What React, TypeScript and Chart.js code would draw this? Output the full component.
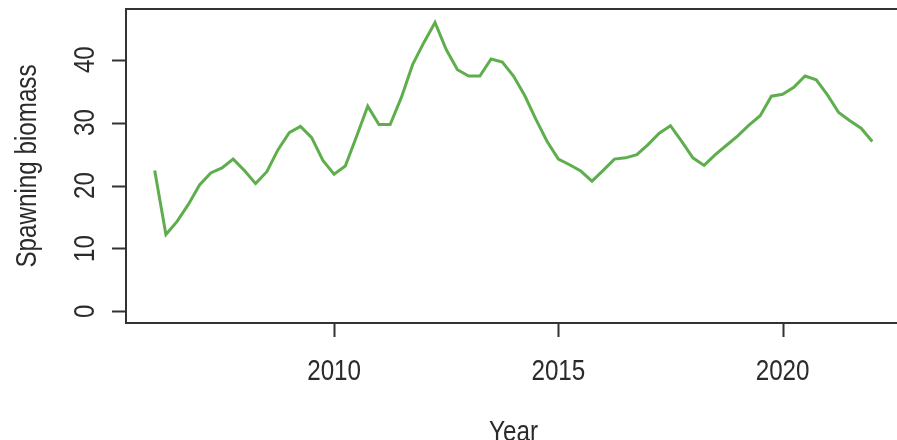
import React, { useEffect, useRef } from "react";
import { Chart, registerables } from "chart.js";

Chart.register(...registerables);

// Quarterly time stamps (decimal years)
const quarters = [
  2006, 2006.25, 2006.5, 2006.75,
  2007, 2007.25, 2007.5, 2007.75,
  2008, 2008.25, 2008.5, 2008.75,
  2009, 2009.25, 2009.5, 2009.75,
  2010, 2010.25, 2010.5, 2010.75,
  2011, 2011.25, 2011.5, 2011.75,
  2012, 2012.25, 2012.5, 2012.75,
  2013, 2013.25, 2013.5, 2013.75,
  2014, 2014.25, 2014.5, 2014.75,
  2015, 2015.25, 2015.5, 2015.75,
  2016, 2016.25, 2016.5, 2016.75,
  2017, 2017.25, 2017.5, 2017.75,
  2018, 2018.25, 2018.5, 2018.75,
  2019, 2019.25, 2019.5, 2019.75,
  2020, 2020.25, 2020.5, 2020.75,
  2021, 2021.25, 2021.5, 2021.75,
  2022,
];

// Spawning biomass estimates per quarter
const biomass = [
  22.4, 12.2, 14.3, 17.0,
  20.1, 22.0, 22.8, 24.2,
  22.4, 20.3, 22.2, 25.7,
  28.4, 29.4, 27.6, 24.0,
  21.8, 23.1, 27.8, 32.6,
  29.7, 29.7, 34.0, 39.2,
  42.7, 45.9, 41.6, 38.4,
  37.4, 37.4, 40.1, 39.6,
  37.4, 34.3, 30.5, 27.0,
  24.2, 23.3, 22.3, 20.7,
  22.4, 24.2, 24.4, 24.9,
  26.5, 28.3, 29.5, 27.0,
  24.4, 23.2, 24.9, 26.4,
  27.9, 29.6, 31.1, 34.2,
  34.5, 35.6, 37.4, 36.8,
  34.4, 31.6, 30.3, 29.1,
  27.0,
];

const xTicks = [2010, 2015, 2020];
const yTicks = [0, 10, 20, 30, 40];

const xTitle = "Year";
const yTitle = "Spawning biomass";

const FONT = '29.5px "Liberation Sans", Arial, sans-serif';
const NARROW = 0.82;
const INK = "#2b2b2b";
const FRAME = "#333333";

// Draws an R-style frame, tick marks and condensed labels
const baseAxesPlugin = {
  id: "baseAxes",
  afterDraw(chart: any) {
    const { ctx, chartArea, scales } = chart;
    const xs = scales.x;
    const ys = scales.y;
    const { left, right, top, bottom } = chartArea;
    ctx.save();

    ctx.strokeStyle = FRAME;
    ctx.lineWidth = 2;
    ctx.strokeRect(left, top, right - left, bottom - top);

    ctx.beginPath();
    for (const v of xTicks) {
      const px = Math.round(xs.getPixelForValue(v)) + 0.5;
      ctx.moveTo(px, bottom);
      ctx.lineTo(px, bottom + 14);
    }
    for (const v of yTicks) {
      const py = Math.round(ys.getPixelForValue(v)) + 0.5;
      ctx.moveTo(left, py);
      ctx.lineTo(left - 14, py);
    }
    ctx.stroke();

    ctx.fillStyle = INK;
    ctx.font = FONT;
    ctx.textAlign = "center";
    ctx.textBaseline = "alphabetic";

    for (const v of xTicks) {
      ctx.save();
      ctx.translate(xs.getPixelForValue(v), 379.5);
      ctx.scale(NARROW, 1);
      ctx.fillText(String(v), 0, 0);
      ctx.restore();
    }
    for (const v of yTicks) {
      ctx.save();
      ctx.translate(94, ys.getPixelForValue(v));
      ctx.rotate(-Math.PI / 2);
      ctx.scale(NARROW, 1);
      ctx.fillText(String(v), 0, 0);
      ctx.restore();
    }

    ctx.save();
    ctx.translate((left + right) / 2, 440.5);
    ctx.scale(NARROW, 1);
    ctx.fillText(xTitle, 0, 0);
    ctx.restore();

    ctx.save();
    ctx.translate(35.5, (top + bottom) / 2);
    ctx.rotate(-Math.PI / 2);
    ctx.scale(NARROW, 1);
    ctx.fillText(yTitle, 0, 0);
    ctx.restore();

    ctx.restore();
  },
};

export default function App() {
  const ref = useRef<HTMLCanvasElement | null>(null);

  useEffect(() => {
    if (!ref.current) return;
    const points = quarters.map((t, i) => ({ x: t, y: biomass[i] }));
    const chart = new Chart(ref.current, {
      type: "line",
      data: {
        datasets: [
          {
            data: points,
            borderColor: "#5fae4e",
            borderWidth: 3,
            pointRadius: 0,
            tension: 0,
            fill: false,
          },
        ],
      },
      options: {
        animation: false,
        responsive: false,
        maintainAspectRatio: false,
        layout: { padding: { left: 126, top: 9, right: 9, bottom: 117 } },
        plugins: { legend: { display: false }, tooltip: { enabled: false } },
        scales: {
          x: { type: "linear", min: 2005.36, max: 2022.64, display: false },
          y: { type: "linear", min: -1.85, max: 48.05, display: false },
        },
      },
      plugins: [baseAxesPlugin],
    });
    return () => chart.destroy();
  }, []);

  return (
    <div
      style={{
        position: "fixed",
        left: 0,
        top: 0,
        width: 897,
        height: 440,
        overflow: "hidden",
        background: "#ffffff",
      }}
    >
      <canvas ref={ref} width={910} height={440} style={{ display: "block" }} />
    </div>
  );
}
